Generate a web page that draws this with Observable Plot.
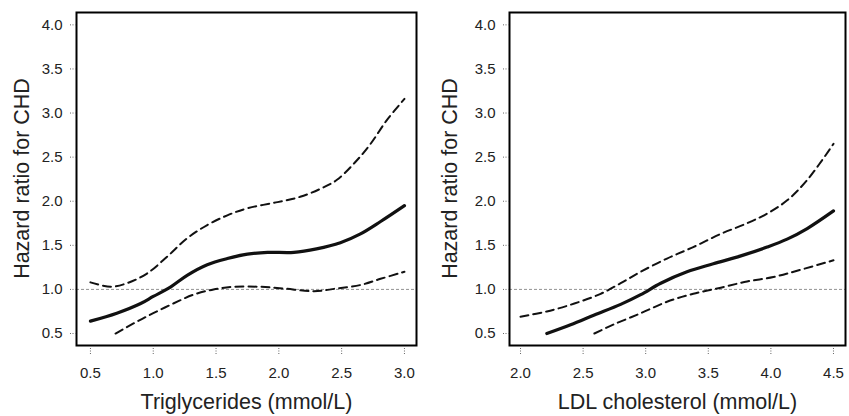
<!DOCTYPE html>
<html><head><meta charset="utf-8">
<script src="https://cdn.jsdelivr.net/npm/d3@7"></script>
<script src="https://cdn.jsdelivr.net/npm/@observablehq/plot@0.6"></script>
<style>
body{margin:0;background:#fff}
#c{display:flex;width:849px;height:416px;overflow:hidden}
#c svg{display:block;flex:none}
#c g[aria-label$="tick label"]{font-size:15px}
</style>
</head><body><div id="c"></div>
<script>
// Shared y ticks
const yTicks = [0.5, 1.0, 1.5, 2.0, 2.5, 3.0, 3.5, 4.0];
const yTitle = "Hazard ratio for CHD";
const refHR = [1];

// Left panel: Triglycerides
const tgTicks = [0.5, 1.0, 1.5, 2.0, 2.5, 3.0];
const tgTitle = "Triglycerides (mmol/L)";
const tgFitX  = [0.50, 0.71, 0.90, 1.00, 1.14, 1.27, 1.43, 1.59, 1.75, 1.91, 2.12, 2.30, 2.49, 2.65, 2.81, 3.00];
const tgFitHR = [0.64, 0.73, 0.84, 0.92, 1.03, 1.16, 1.28, 1.35, 1.40, 1.42, 1.42, 1.46, 1.53, 1.63, 1.77, 1.95];
const tgUpX   = [0.50, 0.66, 0.79, 0.95, 1.11, 1.27, 1.43, 1.59, 1.75, 1.99, 2.17, 2.33, 2.46, 2.60, 2.73, 2.86, 3.00];
const tgUpHR  = [1.08, 1.03, 1.07, 1.18, 1.37, 1.58, 1.73, 1.84, 1.92, 1.99, 2.05, 2.14, 2.24, 2.43, 2.65, 2.92, 3.16];
const tgLoX   = [0.70, 0.85, 1.00, 1.16, 1.32, 1.48, 1.64, 1.85, 2.04, 2.28, 2.46, 2.65, 2.81, 3.00];
const tgLoHR  = [0.50, 0.62, 0.73, 0.84, 0.94, 1.00, 1.03, 1.03, 1.01, 0.98, 1.01, 1.05, 1.12, 1.20];

// Right panel: LDL cholesterol
const ldlTicks = [2.0, 2.5, 3.0, 3.5, 4.0, 4.5];
const ldlTitle = "LDL cholesterol (mmol/L)";
const ldlFitX  = [2.21, 2.40, 2.59, 2.80, 2.96, 3.12, 3.33, 3.54, 3.76, 3.97, 4.13, 4.29, 4.50];
const ldlFitHR = [0.50, 0.60, 0.71, 0.83, 0.94, 1.07, 1.20, 1.29, 1.38, 1.48, 1.57, 1.69, 1.89];
const ldlUpX   = [2.00, 2.21, 2.43, 2.64, 2.80, 2.96, 3.17, 3.38, 3.60, 3.81, 3.97, 4.13, 4.29, 4.50];
const ldlUpHR  = [0.69, 0.75, 0.84, 0.95, 1.07, 1.20, 1.35, 1.48, 1.63, 1.75, 1.86, 2.01, 2.24, 2.65];
const ldlLoX   = [2.59, 2.74, 2.96, 3.17, 3.38, 3.60, 3.81, 4.02, 4.23, 4.50];
const ldlLoHR  = [0.50, 0.60, 0.73, 0.86, 0.95, 1.02, 1.09, 1.14, 1.22, 1.33];

const zip = (xs, ys) => xs.map((x, i) => ({x, y: ys[i]}));
const fmt = d3.format(".1f");

function panel({width, marginLeft, marginRight, xDomain, xTicks, xTitle, fit, up, lo, yTitleDx}) {
  return Plot.plot({
    width, height: 416,
    marginLeft, marginRight, marginTop: 12, marginBottom: 68,
    x: {domain: xDomain},
    y: {domain: [0.33, 4.14]},
    style: {fontFamily: "'Liberation Sans', Arial, sans-serif", fontSize: "15px", color: "#222", background: "#fff"},
    marks: [
      Plot.ruleY(refHR, {stroke: "#777", strokeWidth: 0.8, strokeDasharray: "3,2"}),
      Plot.line(up, {x: "x", y: "y", curve: "catmull-rom", stroke: "#111", strokeWidth: 2, strokeDasharray: "8,5"}),
      Plot.line(lo, {x: "x", y: "y", curve: "catmull-rom", stroke: "#111", strokeWidth: 2, strokeDasharray: "8,5"}),
      Plot.line(fit, {x: "x", y: "y", curve: "catmull-rom", stroke: "#111", strokeWidth: 3.2}),
      Plot.frame({insetBottom: 3, stroke: "#000", strokeWidth: 2}),
      Plot.axisY(yTicks, {tickSize: 7, tickPadding: 7, tickFormat: fmt, label: null, fontSize: 15, stroke: "#666", strokeDasharray: "1,1.5", fill: "#222"}),
      Plot.axisX(xTicks, {tickSize: 7, tickPadding: 12, tickFormat: fmt, label: null, fontSize: 15, stroke: "#666", strokeDasharray: "1,1.5", fill: "#222"}),
      Plot.text([xTitle], {frameAnchor: "bottom", lineAnchor: "middle", dy: 54, fontSize: 21.5, fill: "#222"}),
      Plot.text([yTitle], {frameAnchor: "left", textAnchor: "middle", lineAnchor: "middle", rotate: -90, dx: yTitleDx, dy: -2, fontSize: 21.5, fill: "#222"})
    ]
  });
}

const c = document.getElementById("c");
c.append(panel({
  width: 425, marginLeft: 76, marginRight: 9,
  xDomain: [0.389, 3.096], xTicks: tgTicks, xTitle: tgTitle,
  fit: zip(tgFitX, tgFitHR), up: zip(tgUpX, tgUpHR), lo: zip(tgLoX, tgLoHR),
  yTitleDx: -54
}));
c.append(panel({
  width: 424, marginLeft: 84, marginRight: 4,
  xDomain: [1.912, 4.596], xTicks: ldlTicks, xTitle: ldlTitle,
  fit: zip(ldlFitX, ldlFitHR), up: zip(ldlUpX, ldlUpHR), lo: zip(ldlLoX, ldlLoHR),
  yTitleDx: -59
}));
</script>
</body></html>
